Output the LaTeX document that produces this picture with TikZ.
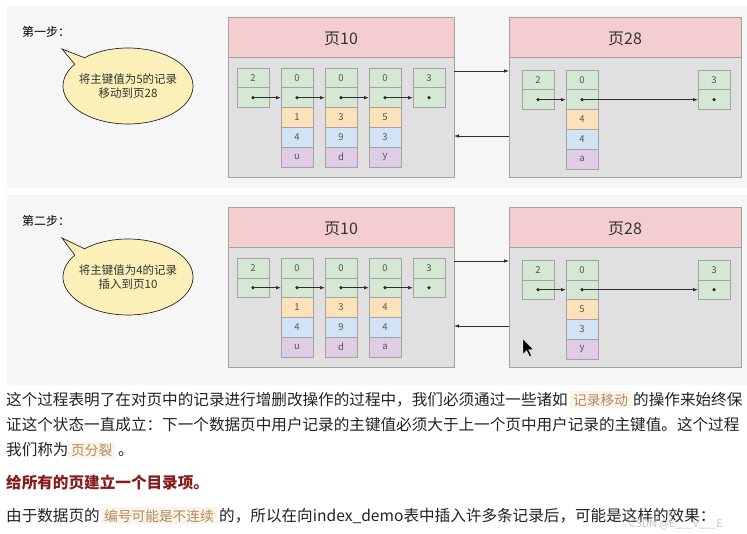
\documentclass[tikz,border=0pt]{standalone}
\usepackage{fontspec}
\setmainfont{Noto Sans CJK SC}
\usetikzlibrary{arrows.meta,calc}
\definecolor{panelbg}{HTML}{F6F6F6}
\definecolor{pagebg}{HTML}{E0E0E0}
\definecolor{headbg}{HTML}{F4CECF}
\definecolor{pageborder}{HTML}{A2A2A2}
\definecolor{cellborder}{HTML}{A3A3A3}
\definecolor{cg}{HTML}{D5E8D4}
\definecolor{co}{HTML}{FBE2BA}
\definecolor{cb}{HTML}{D2E3F6}
\definecolor{cp}{HTML}{DFCDE6}
\definecolor{celltext}{HTML}{555555}
\definecolor{arrowc}{HTML}{2E2E2E}
\definecolor{titlec}{HTML}{333333}
\definecolor{bubblefill}{HTML}{FBF1B8}
\definecolor{bodytc}{HTML}{222222}
\definecolor{hlbg}{HTML}{FBF4EA}
\definecolor{hltext}{HTML}{B38B5D}
\definecolor{headred}{HTML}{861C1C}
\definecolor{wmark}{HTML}{C4C4C4}

\newcommand\shortrec[4]{%
  \node[cellg, anchor=north west] (#1a) at (#2,#3) {#4};
  \node[cellg, anchor=north] (#1b) at (#1a.south) {};
  \fill[arrowc] (#1b.center) circle[radius=1.8bp];
}
\newcommand\longrec[7]{%
  \shortrec{#1}{#2}{#3}{#4}
  \node[cello, anchor=north] (#1c) at (#1b.south) {#5};
  \node[cellb, anchor=north] (#1d) at (#1c.south) {#6};
  \node[cellp, anchor=north] (#1e) at (#1d.south) {#7};
}
\newcommand\bubble[5]{%
  \path[bubblestyle] ($(#2,#3)+(215:65 and 38)$) -- ($(#2,#3)+(-66,#5)$)
    -- ($(#2,#3)+(228:65 and 38)$) arc[start angle=228, end angle=575, x radius=65, y radius=38] -- cycle;
  \node[bubbletext] (#1) at (#2,#3) {#4};
}
\newcommand\pagebox[4]{% name, x, y, width, title via \pagetitle
  \node[pagebody, minimum width=#4bp] (#1) at (#2,#3) {};
  \node[pagehead, minimum width=#4bp] (#1h) at (#2,#3) {};
}

\begin{document}
\begin{tikzpicture}[x=1bp,y=-1bp,
  cell/.style={draw=cellborder, line width=0.6bp, minimum width=32bp, minimum height=19.8bp,
    inner sep=0pt, outer sep=0pt, font=\fontsize{9.5bp}{11bp}\selectfont, text=celltext},
  cellg/.style={cell, fill=cg},
  cello/.style={cell, fill=co},
  cellb/.style={cell, fill=cb},
  cellp/.style={cell, fill=cp},
  ptr/.style={draw=arrowc, line width=0.8bp, -{Latex[length=5bp,width=3.6bp]}},
  pagebody/.style={draw=pageborder, fill=pagebg, line width=0.8bp, minimum height=160bp,
    anchor=north west, inner sep=0pt, outer sep=0pt},
  pagehead/.style={draw=pageborder, fill=headbg, line width=0.8bp, minimum height=40bp,
    anchor=north west, inner sep=0pt, outer sep=0pt},
  pagetitle/.style={font=\fontsize{16bp}{18bp}\selectfont, text=titlec, inner sep=0pt},
  bubblestyle/.style={draw=black!85, fill=bubblefill, line width=0.7bp},
  bubbletext/.style={align=center, font=\fontsize{11.5bp}{13.8bp}\selectfont, text=titlec},
  steplbl/.style={anchor=west, font=\fontsize{12bp}{14bp}\selectfont, text=black, inner sep=0pt},
  body/.style={anchor=base west, inner sep=0pt, font=\fontsize{15.6bp}{18bp}\selectfont, text=bodytc},
  hl/.style={anchor=base west, inner xsep=3bp, inner ysep=2bp, fill=hlbg, font=\fontsize{13.7bp}{16bp}\selectfont, text=hltext},
]
\useasboundingbox[fill=white] (0,0) rectangle (747,534);

% panels
\fill[panelbg] (7,6) rectangle (747,188);
\fill[panelbg] (7,195) rectangle (747,385);

%================ panel 1
\node[steplbl] (s1) at (22,32) {第一步：};
\bubble{b1}{128}{86}{将主键值为5的记录\\移动到页28}{-37}

\pagebox{pA}{228}{17}{226}
\node[pagetitle] (pAt) at ([yshift=-2bp]pAh.center) {页10};
\pagebox{pB}{509}{17}{232}
\node[pagetitle] (pBt) at ([yshift=-2bp]pBh.center) {页28};

\shortrec{a1}{237}{68}{2}
\longrec{a2}{281}{68}{0}{1}{4}{u}
\longrec{a3}{325}{68}{0}{3}{9}{d}
\longrec{a4}{369}{68}{0}{5}{3}{y}
\shortrec{a5}{413}{68}{3}
\draw[ptr] (a1b.center) -- (a2b.west);
\draw[ptr] (a2b.center) -- (a3b.west);
\draw[ptr] (a3b.center) -- (a4b.west);
\draw[ptr] (a4b.center) -- (a5b.west);

\shortrec{c1}{522}{70}{2}
\longrec{c2}{566}{70}{0}{4}{4}{a}
\shortrec{c3}{698}{70}{3}
\draw[ptr] (c1b.center) -- (c2b.west);
\draw[ptr] (c2b.center) -- (c3b.west);

\draw[ptr] ([yshift=-54bp]pA.north east) -- ([yshift=-54bp]pB.north west);
\draw[ptr] ([yshift=-119bp]pB.north west) -- ([yshift=-119bp]pA.north east);

%================ panel 2
\node[steplbl] (s2) at (22,221) {第二步：};
\bubble{b2}{128}{277}{将主键值为4的记录\\插入到页10}{-39}

\pagebox{qA}{228}{207}{226}
\node[pagetitle] (qAt) at ([yshift=-2bp]qAh.center) {页10};
\pagebox{qB}{509}{207}{232}
\node[pagetitle] (qBt) at ([yshift=-2bp]qBh.center) {页28};

\shortrec{d1}{237}{258}{2}
\longrec{d2}{281}{258}{0}{1}{4}{u}
\longrec{d3}{325}{258}{0}{3}{9}{d}
\longrec{d4}{369}{258}{0}{4}{4}{a}
\shortrec{d5}{413}{258}{3}
\draw[ptr] (d1b.center) -- (d2b.west);
\draw[ptr] (d2b.center) -- (d3b.west);
\draw[ptr] (d3b.center) -- (d4b.west);
\draw[ptr] (d4b.center) -- (d5b.west);

\shortrec{e1}{522}{260}{2}
\longrec{e2}{566}{260}{0}{5}{3}{y}
\shortrec{e3}{698}{260}{3}
\draw[ptr] (e1b.center) -- (e2b.west);
\draw[ptr] (e2b.center) -- (e3b.west);

\draw[ptr] ([yshift=-54bp]qA.north east) -- ([yshift=-54bp]qB.north west);
\draw[ptr] ([yshift=-119bp]qB.north west) -- ([yshift=-119bp]qA.north east);

% mouse cursor
\fill[black, draw=white, line width=0.3bp] (523,339) -- ++(0,15) -- ++(3.5,-3.5) -- ++(3,6) -- ++(2,-1) -- ++(-3,-5.8) -- ++(5,0) -- cycle;

%================ text
\node[body] (t1a) at (6,405) {这个过程表明了在对页中的记录进行增删改操作的过程中，我们必须通过一些诸如};
\node[hl] (t1b) at (570,405) {记录移动};
\node[body] (t1c) at (633,405) {的操作来始终保};
\node[body] (t2) at (6,430) {证这个状态一直成立：下一个数据页中用户记录的主键值必须大于上一个页中用户记录的主键值。这个过程};
\node[body] (t3a) at (6,455) {我们称为};
\node[hl] (t3b) at (68,455) {页分裂};
\node[body] (t3c) at (118,455) {。};
\node[body, text=headred, font=\fontsize{15.6bp}{18bp}\selectfont\bfseries] (t4) at (6,488) {给所有的页建立一个目录项。};
\node[body] (t5a) at (6,521) {由于数据页的};
\node[hl] (t5b) at (101,521) {编号可能是不连续};
\node[body] (t5c) at (219,521) {的，所以在向index\_demo表中插入许多条记录后，可能是这样的效果：};
\node[anchor=west, inner sep=0pt, font=\fontsize{10.5bp}{12bp}\selectfont, text=wmark] (wm) at (629,524) {CSDN @E\_\_\_V\_\_\_E};
\end{tikzpicture}
\end{document}
